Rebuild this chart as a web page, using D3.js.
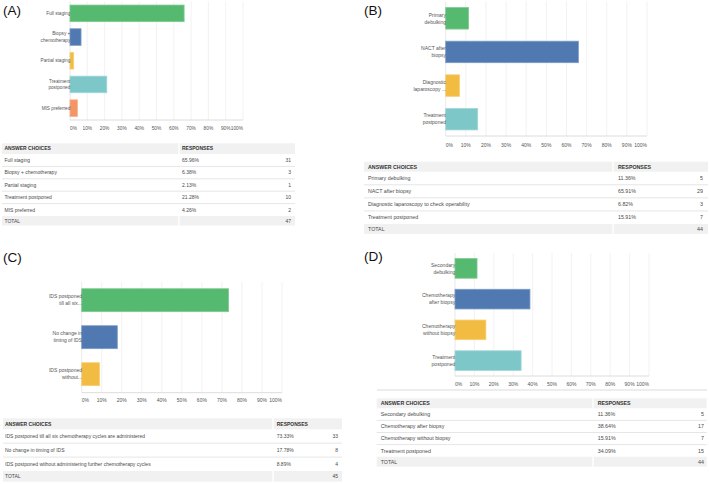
<!DOCTYPE html>
<html>
<head>
<meta charset="utf-8">
<script src="https://cdn.jsdelivr.net/npm/d3@7"></script>
<style>
html,body{margin:0;padding:0;background:#fff;}
svg{display:block;font-family:"Liberation Sans",Arial,sans-serif;}
</style>
</head>
<body>
<svg id="chart" width="709" height="484"></svg>
<script>
// ---------- DATA ----------
const ticks = [0,10,20,30,40,50,60,70,80,90,100];

const choicesA = ["Full staging","Biopsy + chemotherapy","Partial staging","Treatment postponed","MIS preferred"];
const axisLabelsA = [["Full staging"],["Biopsy +","chemotherapy"],["Partial staging"],["Treatment","postponed"],["MIS preferred"]];
const pctA = [65.96,6.38,2.13,21.28,4.26];
const countA = [31,3,1,10,2];
const totalA = 47;

const choicesB = ["Primary debulking","NACT after biopsy","Diagnostic laparoscopy to check operability","Treatment postponed"];
const axisLabelsB = [["Primary","debulking"],["NACT after","biopsy"],["Diagnostic","laparoscopy ..."],["Treatment","postponed"]];
const pctB = [11.36,65.91,6.82,15.91];
const countB = [5,29,3,7];
const totalB = 44;

const choicesC = ["IDS postponed till all six chemotherapy cycles are administered","No change in timing of IDS","IDS postponed without administering further chemotherapy cycles"];
const axisLabelsC = [["IDS postponed","till all six..."],["No change in","timing of IDS"],["IDS postponed","without..."]];
const pctC = [73.33,17.78,8.89];
const countC = [33,8,4];
const totalC = 45;

const choicesD = ["Secondary debulking","Chemotherapy after biopsy","Chemotherapy without biopsy","Treatment postponed"];
const axisLabelsD = [["Secondary","debulking"],["Chemotherapy","after biopsy"],["Chemotherapy","without biopsy"],["Treatment","postponed"]];
const pctD = [11.36,38.64,15.91,34.09];
const countD = [5,17,7,15];
const totalD = 44;

const panelNames = ["(A)","(B)","(C)","(D)"];

// ---------- STYLE ----------
const fills   = ["#56b970","#4f79b0","#f2bc42","#7ec7c9","#f39564"];
const strokes = ["#7fcb92","#7b9cc7","#f6cf77","#a3d7d9","#f6b08f"];

const svg = d3.select("#chart");

function drawPanel(p) {
  const g = svg.append("g");
  g.append("text").attr("x", p.letterX).attr("y", p.letterY)
    .attr("font-size", 13.5).attr("fill", "#111").text(p.name);

  const x = d3.scaleLinear().domain([0,100]).range([p.x0, p.x1]);
  const y = d3.scaleBand().domain(d3.range(p.choices.length)).range([p.y0, p.y1]).paddingInner(p.pad).paddingOuter(p.pad/2);

  g.selectAll(".grid").data(p.ticks).join("line")
    .attr("x1", d => x(d)).attr("x2", d => x(d))
    .attr("y1", p.y0).attr("y2", p.y1)
    .attr("stroke", d => d === 0 ? "#e2e2e2" : "#efefef").attr("stroke-width", 0.8);
  g.append("line").attr("x1", p.x0).attr("x2", p.x1).attr("y1", p.y1).attr("y2", p.y1)
    .attr("stroke", "#dcdcdc").attr("stroke-width", 1);
  g.selectAll(".tick").data(p.ticks).join("text")
    .attr("x", d => x(d)).attr("y", p.tickY)
    .attr("text-anchor", (d,i) => i === 0 ? "start" : (i === p.ticks.length-1 ? "end" : "middle"))
    .attr("font-size", p.tickFs).attr("fill", "#555")
    .text(d => d + "%");

  g.selectAll(".bar").data(p.pct).join("rect")
    .attr("x", x(0)).attr("y", (d,i) => y(i))
    .attr("width", d => x(d) - x(0)).attr("height", y.bandwidth())
    .attr("fill", (d,i) => fills[i]).attr("stroke", (d,i) => strokes[i]).attr("stroke-width", 0.8);

  p.labels.forEach((lines, i) => {
    const cy = y(i) + y.bandwidth()/2;
    const lh = p.labelFs * 1.4;
    const t = g.append("text").attr("text-anchor", "end").attr("font-size", p.labelFs).attr("fill", "#555");
    lines.forEach((ln, k) => {
      t.append("tspan").attr("x", p.x0 + 0.3)
        .attr("y", cy + (k - (lines.length-1)/2) * lh + p.labelFs*0.35)
        .text(ln);
    });
  });

  const tb = p.table;
  const rowsY = d3.scaleBand().domain(d3.range(p.choices.length)).range([tb.headTop + tb.headH, tb.totalTop]);
  const tg = g.append("g").attr("font-size", tb.fs).attr("fill", "#4a4a4a");
  tg.append("rect").attr("x", tb.x0).attr("y", tb.headTop).attr("width", tb.gap - tb.x0 - 0.7).attr("height", tb.headH).attr("fill", "#f1f1f1");
  tg.append("rect").attr("x", tb.gap + 0.7).attr("y", tb.headTop).attr("width", tb.x1 - tb.gap - 0.7).attr("height", tb.headH).attr("fill", "#f1f1f1");
  tg.append("rect").attr("x", tb.x0).attr("y", tb.totalTop).attr("width", tb.gap - tb.x0 - 0.7).attr("height", tb.totalH).attr("fill", "#f1f1f1");
  tg.append("rect").attr("x", tb.gap + 0.7).attr("y", tb.totalTop).attr("width", tb.x1 - tb.gap - 0.7).attr("height", tb.totalH).attr("fill", "#f1f1f1");
  tg.append("text").attr("x", tb.textX).attr("y", tb.headTop + tb.headH/2 + tb.fs*0.35)
    .attr("font-weight", "bold").attr("fill", "#333").text("ANSWER CHOICES");
  tg.append("text").attr("x", tb.respX).attr("y", tb.headTop + tb.headH/2 + tb.fs*0.35)
    .attr("font-weight", "bold").attr("fill", "#333").text("RESPONSES");
  d3.range(1, p.choices.length).forEach(i => {
    tg.append("line").attr("x1", tb.x0).attr("x2", tb.x1)
      .attr("y1", rowsY(i)).attr("y2", rowsY(i)).attr("stroke", "#e6e6e6").attr("stroke-width", 1);
  });
  p.choices.forEach((c, i) => {
    const cy = rowsY(i) + rowsY.bandwidth()/2 + tb.fs*0.35;
    tg.append("text").attr("x", tb.textX).attr("y", cy).text(c);
    tg.append("text").attr("x", tb.respX).attr("y", cy).text(p.pct[i].toFixed(2) + "%");
    tg.append("text").attr("x", tb.countX).attr("y", cy).attr("text-anchor", "end").text(p.count[i]);
  });
  const ty = tb.totalTop + tb.totalH/2 + tb.fs*0.35;
  tg.append("text").attr("x", tb.textX).attr("y", ty).text("TOTAL");
  tg.append("text").attr("x", tb.countX).attr("y", ty).attr("text-anchor", "end").text(p.total);
  return g;
}

drawPanel({
  name: panelNames[0], letterX: 3, letterY: 15,
  choices: choicesA, labels: axisLabelsA, pct: pctA, count: countA, total: totalA, ticks,
  x0: 70, x1: 243, y0: 1.5, y1: 120, pad: 0.3, tickY: 130, tickFs: 4.8, labelFs: 4.7,
  table: {x0: 2, x1: 295, gap: 179, textX: 4.5, respX: 182, countX: 291,
          headTop: 143.3, headH: 10.7, totalTop: 216, totalH: 9.5, fs: 5}
});

drawPanel({
  name: panelNames[1], letterX: 364, letterY: 15,
  choices: choicesB, labels: axisLabelsB, pct: pctB, count: countB, total: totalB, ticks,
  x0: 445.7, x1: 647, y0: 1.5, y1: 136, pad: 0.36, tickY: 147, tickFs: 5, labelFs: 5,
  table: {x0: 364, x1: 708, gap: 613, textX: 368, respX: 618, countX: 703,
          headTop: 161.7, headH: 10, totalTop: 224, totalH: 10, fs: 5.3}
});

drawPanel({
  name: panelNames[2], letterX: 3, letterY: 262,
  choices: choicesC, labels: axisLabelsC, pct: pctC, count: countC, total: totalC, ticks,
  x0: 81.7, x1: 282, y0: 281.7, y1: 392.7, pad: 0.38, tickY: 402, tickFs: 5, labelFs: 5,
  table: {x0: 3, x1: 342, gap: 273, textX: 5, respX: 276.7, countX: 338,
          headTop: 418.3, headH: 11, totalTop: 471, totalH: 10.7, fs: 5}
});

drawPanel({
  name: panelNames[3], letterX: 364, letterY: 261,
  choices: choicesD, labels: axisLabelsD, pct: pctD, count: countD, total: totalD, ticks,
  x0: 455, x1: 649, y0: 253, y1: 376, pad: 0.36, tickY: 386, tickFs: 5, labelFs: 5.1,
  table: {x0: 376.7, x1: 706.7, gap: 593, textX: 380.7, respX: 597.7, countX: 704,
          headTop: 398.3, headH: 10, totalTop: 456.7, totalH: 10, fs: 5.3}
});

svg.append("line").attr("x1", 377).attr("x2", 707).attr("y1", 390).attr("y2", 390)
  .attr("stroke", "#ededed").attr("stroke-width", 2);
</script>
</body>
</html>
